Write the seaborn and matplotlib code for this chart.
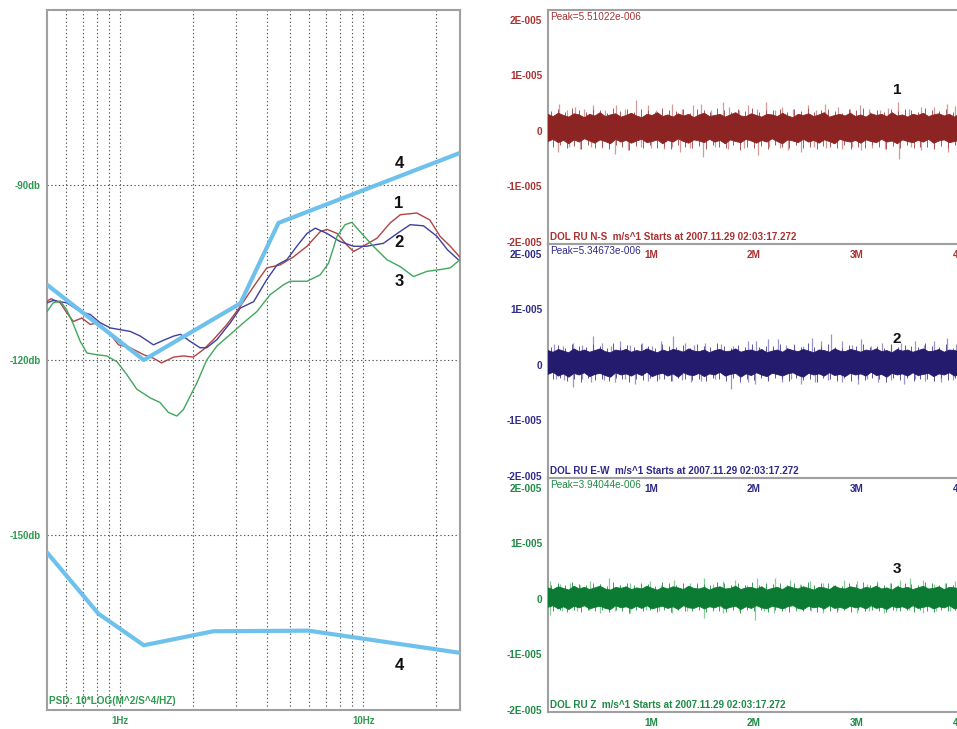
import numpy as np
import pandas as pd
import matplotlib
matplotlib.use("Agg")
import matplotlib.pyplot as plt
from matplotlib.ticker import NullLocator
import seaborn as sns

sns.set_style("white")
plt.rcParams['font.family'] = ['Liberation Sans', 'DejaVu Sans']

# ---------------- PSD data (frequency Hz, dB) ----------------
f_red = [0.5, 0.52, 0.567, 0.603, 0.642, 0.695, 0.753, 0.814, 0.91, 0.985, 1.1, 1.25, 1.37, 1.48, 1.66,
         1.82, 2.0, 2.2, 2.42, 2.75, 3.12, 3.54, 4.01, 4.55, 5.17, 5.87, 6.65, 7.09, 7.8, 8.57,
         9.12, 10.0, 11.4, 12.9, 14.2, 16.6, 18.8, 20.7, 22.8, 25.0]
db_red = [-109.9, -109.5, -110.2, -111.9, -113.4, -112.8, -113.9, -113.6, -115.6, -117.4, -117.9, -119.1,
          -119.7, -120.5, -119.5, -119.3, -119.5, -118.2, -116.5, -113.9, -110.8, -107.4, -104.2, -103.7,
          -102.3, -100.5, -98.0, -97.6, -98.3, -100.3, -101.4, -100.5, -99.1, -96.5, -95.1, -94.8, -96.0,
          -98.8, -100.5, -102.4]

f_nv = [0.5, 0.53, 0.603, 0.685, 0.753, 0.827, 0.91, 1.0, 1.1, 1.21, 1.37, 1.51, 1.66, 1.77, 1.94,
        2.13, 2.27, 2.5, 2.84, 3.12, 3.54, 4.01, 4.42, 4.85, 5.33, 5.87, 6.35, 7.09, 8.03, 9.12,
        10.3, 12.1, 13.8, 15.6, 17.7, 20.1, 22.2, 24.6]
db_nv = [-110.2, -109.8, -110.2, -111.7, -112.2, -113.6, -114.5, -114.8, -115.1, -115.9, -117.4, -116.6,
         -115.9, -115.6, -116.8, -117.9, -117.9, -116.5, -113.6, -111.1, -110.0, -106.2, -103.7, -102.8,
         -100.5, -98.3, -97.4, -98.3, -99.7, -100.5, -100.5, -100.0, -98.3, -96.8, -97.0, -98.8,
         -101.1, -102.8]

f_gr = [0.5, 0.53, 0.567, 0.603, 0.642, 0.685, 0.73, 0.8, 0.88, 0.97, 1.065, 1.17, 1.33, 1.46, 1.58,
        1.71, 1.82, 1.94, 2.07, 2.27, 2.5, 2.84, 3.22, 3.65, 4.14, 4.7, 5.0, 5.87, 6.65, 7.2,
        7.8, 8.42, 8.98, 9.7, 11.0, 12.5, 14.2, 16.1, 18.3, 20.7, 22.8, 25.0]
db_gr = [-111.7, -110.2, -109.9, -111.4, -113.9, -116.8, -118.8, -119.1, -119.3, -120.3, -122.5, -125.0,
         -126.5, -127.3, -129.0, -129.6, -128.5, -126.2, -123.9, -120.0, -117.6, -115.6, -113.6, -111.7,
         -108.8, -107.1, -106.5, -106.5, -105.4, -103.4, -98.8, -96.8, -96.4, -98.0, -100.5, -102.8,
         -104.0, -105.7, -104.8, -104.5, -104.2, -102.8]

nhnm_f = [0.5, 1.25, 3.12, 4.48, 25.0]
nhnm_db = [-107.1, -120.0, -110.3, -96.5, -84.5]
nlnm_f = [0.5, 0.814, 1.25, 2.42, 5.95, 25.0]
nlnm_db = [-153.0, -163.5, -168.9, -166.5, -166.4, -170.2]

grid_freqs = [0.6, 0.7, 0.8, 0.9, 1, 2, 3, 4, 5, 6, 7, 8, 9, 10, 20]
grid_db = [-90, -120, -150]
ytick_db = [-90, -120, -150]
ytick_db_lab = ["-90db", "-120db", "-150db"]
xtick_hz = [1, 10]
xtick_hz_lab = ["1Hz", "10Hz"]

# ---------------- Seismogram data (minutes, units of 1e-6 m/s) ----------------
ns_top = [3.0, 2.6, 3.2, 2.8, 2.5, 3.1, 2.9, 2.4, 3.0, 2.7, 3.3, 2.6, 2.9, 3.1, 2.5, 2.8, 3.2, 2.7, 2.4, 3.0,
          2.8, 3.3, 2.6, 2.9, 2.5, 3.1, 2.7, 3.0, 2.4, 2.9, 3.2, 2.6, 2.8, 3.0, 2.5, 2.9, 3.3, 2.7, 2.6, 3.1,
          2.8, 2.5, 3.0, 2.9, 2.6, 3.2, 2.7, 2.4, 3.0, 2.8, 3.1, 2.6, 2.9, 3.3, 2.5, 2.8, 3.0, 2.7, 3.2, 2.6,
          2.9, 2.5, 3.1, 2.8, 3.0, 2.6, 3.3, 2.7, 2.9, 2.5, 3.0, 2.8, 3.2, 2.6, 2.9, 3.1, 2.7, 3.0, 2.5, 3.2, 2.9]
ns_bot = [-1.9, -1.5, -2.1, -1.7, -2.3, -1.6, -2.0, -1.4, -1.8, -2.2, -1.6, -1.9, -2.3, -1.5, -2.0, -1.7, -2.2,
          -1.8, -1.5, -2.1, -1.9, -1.6, -2.3, -1.7, -2.0, -1.4, -1.9, -2.2, -1.6, -1.8, -2.1, -1.5, -2.0, -1.7,
          -2.3, -1.6, -1.9, -2.1, -1.5, -1.8, -2.2, -1.7, -2.0, -1.4, -1.9, -2.3, -1.6, -1.8, -2.1, -1.5, -2.0,
          -1.7, -2.2, -1.6, -1.9, -2.3, -1.5, -1.8, -2.0, -1.7, -2.2, -1.6, -1.9, -2.1, -1.5, -2.0, -1.8, -2.3,
          -1.6, -1.9, -2.1, -1.7, -2.0, -1.5, -2.2, -1.8, -1.6, -2.1, -1.9, -1.7, -2.0]
ns_fr_up = [3.6, 3.9, 3.4, 4.1, 3.7, 3.5, 4.0, 3.8, 3.3, 4.2, 3.6, 3.9, 3.5, 4.0, 3.7, 3.4, 4.1, 3.8, 3.6, 3.9,
            3.3, 4.0, 3.7, 3.5, 4.2, 3.8, 3.4, 3.9, 3.6, 4.1, 3.5, 3.8, 3.7, 4.0, 3.4, 3.9, 3.6, 4.2, 3.5, 3.8,
            4.0, 3.6, 3.3, 3.9, 3.7, 4.1, 3.5, 3.8, 3.4, 4.0, 3.6, 3.9, 3.7, 3.5, 4.2, 3.8, 3.6, 4.0, 3.4, 3.9]
ns_fr_dn = [-2.9, -2.6, -3.1, -2.7, -3.3, -2.5, -3.0, -2.8, -3.2, -2.6, -2.9, -3.4, -2.7, -3.0, -2.5, -3.1,
            -2.8, -3.3, -2.6, -2.9, -3.0, -2.7, -3.2, -2.5, -2.9, -3.1, -2.6, -3.4, -2.8, -3.0, -2.7, -3.2,
            -2.6, -2.9, -3.1, -2.5, -3.0, -2.8, -3.3, -2.7, -2.9, -3.1, -2.6, -3.2, -2.8, -3.0, -2.5, -2.9,
            -3.3, -2.7, -3.0, -2.6, -3.1, -2.8, -2.9, -3.2, -2.7, -3.0, -2.6, -3.1]
ns_up_t = [0.11, 0.18, 0.26, 0.35, 0.44, 0.55, 0.66, 0.75, 0.85, 0.97, 1.05, 1.2, 1.3, 1.41, 1.49, 1.58, 1.70,
           1.76, 1.85, 1.94, 2.03, 2.12, 2.2, 2.27, 2.38, 2.52, 2.6, 2.69, 2.82, 2.93, 3.03, 3.12, 3.22, 3.3,
           3.40, 3.5, 3.62, 3.75, 3.87, 3.95]
ns_up_a = [4.9, 3.8, 4.3, 3.9, 4.6, 3.7, 4.6, 3.9, 5.6, 4.6, 3.8, 4.9, 3.9, 4.6, 4.9, 3.8, 5.2, 4.3, 3.7, 4.6,
           3.9, 5.3, 3.8, 4.3, 3.9, 4.6, 3.8, 4.9, 4.3, 3.9, 4.6, 4.0, 3.8, 4.1, 5.2, 3.9, 4.3, 4.3, 4.9, 4.5]
ns_dn_t = [0.10, 0.2, 0.31, 0.42, 0.52, 0.65, 0.78, 0.9, 1.0, 1.13, 1.2, 1.28, 1.38, 1.50, 1.62, 1.75, 1.9,
           2.04, 2.15, 2.25, 2.33, 2.46, 2.58, 2.7, 2.85, 2.95, 3.04, 3.15, 3.27, 3.41, 3.52, 3.62, 3.75, 3.88, 3.97]
ns_dn_a = [-3.8, -2.9, -3.2, -2.8, -3.0, -4.1, -3.5, -2.9, -3.1, -3.2, -2.8, -3.8, -3.0, -4.7, -2.9, -3.2, -3.0,
           -4.4, -2.8, -3.1, -3.5, -3.8, -2.9, -3.1, -3.2, -2.9, -3.5, -3.0, -3.2, -5.0, -2.9, -3.5, -3.0, -3.8, -3.3]

ew_top = [2.6, 2.3, 2.8, 2.5, 2.2, 2.9, 2.4, 2.7, 2.3, 2.6, 2.9, 2.4, 2.2, 2.7, 2.5, 2.8, 2.3, 2.6, 2.4, 2.9,
          2.5, 2.2, 2.7, 2.4, 2.8, 2.6, 2.3, 2.9, 2.5, 2.4, 2.7, 2.2, 2.6, 2.8, 2.4, 2.5, 2.9, 2.3, 2.6, 2.7,
          2.4, 2.8, 2.2, 2.5, 2.7, 2.3, 2.9, 2.6, 2.4, 2.8, 2.5, 2.2, 2.7, 2.6, 2.3, 2.9, 2.5, 2.4, 2.8, 2.6,
          2.3, 2.7, 2.5, 2.9, 2.4, 2.6, 2.2, 2.8, 2.5, 2.7, 2.3, 2.6, 2.9, 2.4, 2.5, 2.8, 2.3, 2.7, 2.6, 2.4, 2.8]
ew_bot = [-1.7, -1.3, -2.0, -1.6, -2.2, -1.5, -1.8, -1.4, -2.1, -1.7, -1.5, -1.9, -2.2, -1.4, -1.8, -1.6, -2.0,
          -1.5, -1.9, -1.3, -2.1, -1.7, -1.5, -2.0, -1.6, -2.2, -1.4, -1.8, -1.9, -1.5, -2.1, -1.6, -1.8, -1.3,
          -2.0, -1.7, -1.5, -2.2, -1.6, -1.9, -1.4, -1.8, -2.1, -1.5, -1.7, -2.0, -1.6, -1.4, -1.9, -2.2, -1.5,
          -1.8, -1.6, -2.0, -1.4, -1.9, -1.7, -2.1, -1.5, -1.8, -1.6, -2.0, -1.3, -1.9, -1.7, -2.2, -1.5, -1.8,
          -1.6, -2.0, -1.4, -1.9, -1.7, -1.5, -2.1, -1.6, -1.8, -1.4, -2.0, -1.7, -1.5]
ew_fr_up = [3.3, 3.6, 3.1, 3.8, 3.4, 3.2, 3.7, 3.5, 3.0, 3.9, 3.3, 3.6, 3.2, 3.7, 3.4, 3.1, 3.8, 3.5, 3.3, 3.6,
            3.0, 3.7, 3.4, 3.2, 3.9, 3.5, 3.1, 3.6, 3.3, 3.8, 3.2, 3.5, 3.4, 3.7, 3.1, 3.6, 3.3, 3.9, 3.2, 3.5,
            3.7, 3.3, 3.0, 3.6, 3.4, 3.8, 3.2, 3.5, 3.1, 3.7, 3.3, 3.6, 3.4, 3.2, 3.9, 3.5, 3.3, 3.7, 3.1, 3.6]
ew_fr_dn = [-2.6, -2.4, -2.8, -2.5, -3.0, -2.3, -2.7, -2.5, -2.9, -2.4, -2.6, -3.0, -2.5, -2.7, -2.3, -2.8,
            -2.5, -2.9, -2.4, -2.6, -2.7, -2.5, -2.9, -2.3, -2.6, -2.8, -2.4, -3.0, -2.5, -2.7, -2.4, -2.9,
            -2.4, -2.6, -2.8, -2.3, -2.7, -2.5, -3.0, -2.4, -2.6, -2.8, -2.4, -2.9, -2.5, -2.7, -2.3, -2.6,
            -3.0, -2.4, -2.7, -2.4, -2.8, -2.5, -2.6, -2.9, -2.4, -2.7, -2.4, -2.8]
ew_up_t = [0.06, 0.15, 0.24, 0.33, 0.44, 0.52, 0.61, 0.70, 0.80, 0.91, 1.01, 1.10, 1.21, 1.33, 1.42, 1.52,
           1.68, 1.80, 1.94, 2.02, 2.14, 2.23, 2.31, 2.39, 2.48, 2.56, 2.65, 2.75, 2.85, 2.95, 3.04, 3.14,
           3.24, 3.33, 3.43, 3.56, 3.65, 3.75, 3.87, 3.96]
ew_up_a = [3.8, 3.5, 4.0, 3.6, 5.2, 4.0, 3.5, 4.3, 3.6, 4.0, 3.5, 4.3, 5.2, 4.0, 3.6, 4.0, 3.8, 3.5, 4.3, 4.3,
           4.6, 4.6, 3.6, 3.8, 3.5, 4.9, 4.3, 5.5, 4.3, 3.6, 4.6, 3.5, 4.0, 3.6, 4.0, 4.3, 3.6, 4.3, 4.9, 3.8]
ew_dn_t = [0.08, 0.16, 0.24, 0.33, 0.42, 0.54, 0.65, 0.75, 0.84, 0.97, 1.08, 1.20, 1.30, 1.39, 1.49, 1.62,
           1.78, 1.94, 2.01, 2.14, 2.27, 2.36, 2.46, 2.59, 2.72, 2.85, 3.01, 3.10, 3.20, 3.33, 3.46, 3.56,
           3.66, 3.82, 3.93]
ew_dn_a = [-2.5, -2.7, -4.0, -2.6, -3.1, -2.7, -3.1, -2.6, -3.4, -2.8, -2.6, -2.8, -2.7, -3.1, -2.8, -2.6,
           -4.3, -3.1, -3.4, -2.7, -3.1, -2.6, -3.4, -3.1, -2.7, -3.1, -3.4, -2.6, -3.1, -2.7, -3.4, -2.6,
           -2.8, -3.1, -2.7]

z_top = [2.0, 1.7, 2.2, 1.9, 1.6, 2.3, 1.8, 2.1, 1.7, 2.0, 2.3, 1.8, 1.6, 2.1, 1.9, 2.2, 1.7, 2.0, 1.8, 2.3,
         1.9, 1.6, 2.1, 1.8, 2.2, 2.0, 1.7, 2.3, 1.9, 1.8, 2.1, 1.6, 2.0, 2.2, 1.8, 1.9, 2.3, 1.7, 2.0, 2.1,
         1.8, 2.2, 1.6, 1.9, 2.1, 1.7, 2.3, 2.0, 1.8, 2.2, 1.9, 1.6, 2.1, 2.0, 1.7, 2.3, 1.9, 1.8, 2.2, 2.0,
         1.7, 2.1, 1.9, 2.3, 1.8, 2.0, 1.6, 2.2, 1.9, 2.1, 1.7, 2.0, 2.3, 1.8, 1.9, 2.2, 1.7, 2.1, 2.0, 1.8, 2.2]
z_bot = [-1.5, -1.2, -1.8, -1.4, -1.9, -1.3, -1.6, -1.2, -1.8, -1.5, -1.3, -1.7, -1.9, -1.2, -1.6, -1.4, -1.8,
         -1.3, -1.7, -1.2, -1.8, -1.5, -1.3, -1.7, -1.4, -1.9, -1.2, -1.6, -1.7, -1.3, -1.8, -1.4, -1.6, -1.2,
         -1.8, -1.5, -1.3, -1.9, -1.4, -1.7, -1.2, -1.6, -1.8, -1.3, -1.5, -1.8, -1.4, -1.2, -1.7, -1.9, -1.3,
         -1.6, -1.4, -1.8, -1.2, -1.7, -1.5, -1.8, -1.3, -1.6, -1.4, -1.8, -1.2, -1.7, -1.5, -1.9, -1.3, -1.6,
         -1.4, -1.8, -1.2, -1.7, -1.5, -1.3, -1.8, -1.4, -1.6, -1.2, -1.8, -1.5, -1.3]
z_fr_up = [2.6, 2.8, 2.5, 3.0, 2.7, 2.5, 2.9, 2.7, 2.4, 3.1, 2.6, 2.8, 2.5, 2.9, 2.7, 2.4, 3.0, 2.8, 2.6, 2.8,
           2.4, 2.9, 2.7, 2.5, 3.1, 2.8, 2.5, 2.8, 2.6, 3.0, 2.5, 2.8, 2.7, 2.9, 2.5, 2.8, 2.6, 3.1, 2.5, 2.8,
           2.9, 2.6, 2.4, 2.8, 2.7, 3.0, 2.5, 2.8, 2.5, 2.9, 2.6, 2.8, 2.7, 2.5, 3.1, 2.8, 2.6, 2.9, 2.5, 2.8]
z_fr_dn = [-2.1, -1.9, -2.3, -2.0, -2.4, -1.9, -2.2, -2.0, -2.3, -1.9, -2.1, -2.5, -2.0, -2.2, -1.9, -2.3,
           -2.0, -2.4, -1.9, -2.1, -2.2, -2.0, -2.3, -1.9, -2.1, -2.3, -1.9, -2.5, -2.0, -2.2, -2.0, -2.3,
           -1.9, -2.1, -2.3, -1.9, -2.2, -2.0, -2.4, -2.0, -2.1, -2.3, -1.9, -2.3, -2.0, -2.2, -1.9, -2.1,
           -2.4, -2.0, -2.2, -1.9, -2.3, -2.0, -2.1, -2.3, -2.0, -2.2, -1.9, -2.3]
z_up_t = [0.02, 0.12, 0.21, 0.31, 0.41, 0.50, 0.59, 0.70, 0.80, 0.90, 0.99, 1.10, 1.22, 1.38, 1.51, 1.60,
          1.70, 1.82, 1.93, 2.03, 2.12, 2.20, 2.35, 2.45, 2.54, 2.67, 2.77, 2.87, 3.00, 3.10, 3.19, 3.32,
          3.42, 3.51, 3.64, 3.75, 3.85, 3.95]
z_up_a = [3.2, 2.7, 2.9, 2.6, 3.2, 2.7, 3.8, 2.6, 2.9, 2.7, 3.2, 2.6, 3.5, 2.9, 3.8, 2.7, 3.2, 3.5, 2.6, 3.8,
          2.7, 3.8, 3.5, 2.7, 3.2, 2.9, 2.6, 3.5, 3.2, 2.7, 3.2, 2.9, 3.5, 3.8, 3.5, 2.7, 2.8, 3.2]
z_dn_t = [0.02, 0.14, 0.28, 0.40, 0.50, 0.65, 0.80, 0.95, 1.08, 1.20, 1.35, 1.51, 1.60, 1.70, 1.85, 2.01,
          2.10, 2.19, 2.30, 2.41, 2.55, 2.67, 2.82, 3.00, 3.12, 3.26, 3.38, 3.50, 3.64, 3.77, 3.90]
z_dn_a = [-2.8, -2.1, -2.2, -2.0, -2.5, -2.1, -2.5, -2.0, -2.2, -2.5, -2.1, -3.4, -2.2, -2.5, -2.1, -3.7,
          -2.2, -2.5, -2.0, -2.2, -2.1, -2.5, -2.0, -2.5, -2.1, -2.5, -2.2, -2.0, -2.5, -2.1, -2.2]

seis_yticks = [2e-5, 1e-5, 0, -1e-5, -2e-5]
seis_ylabels = ["2E-005", "1E-005", "0", "-1E-005", "-2E-005"]
seis_xticks = [1, 2, 3, 4]
seis_xlabels = ["1M", "2M", "3M", "4M"]

peaks = ["Peak=5.51022e-006", "Peak=5.34673e-006", "Peak=3.94044e-006"]
chan_titles = ["DOL RU N-S  m/s^1 Starts at 2007.11.29 02:03:17.272",
               "DOL RU E-W  m/s^1 Starts at 2007.11.29 02:03:17.272",
               "DOL RU Z  m/s^1 Starts at 2007.11.29 02:03:17.272"]

# ---------------- figure ----------------
W, H = 957, 729
fig = plt.figure(figsize=(W / 100, H / 100), dpi=100)
fig.patch.set_facecolor("white")


def box(x0, y0, x1, y1):
    return [x0 / W, 1 - y1 / H, (x1 - x0) / W, (y1 - y0) / H]


def ftext(x, y, s, **kw):
    fig.text(x / W, 1 - y / H, s, **kw)


SPINE = "#a0a0a0"
GREEN_T = "#2e9a50"

# ---- PSD panel ----
ax = fig.add_axes(box(47, 10, 460, 710))
ax.set_xscale("log")
ax.set_xlim(0.5, 25)
ax.set_ylim(-180, -60)
for g in grid_freqs:
    ax.axvline(g, color="#555555", lw=0.8, ls=(0, (1.2, 2.2)), zorder=1)
for g in grid_db:
    ax.axhline(g, color="#555555", lw=0.8, ls=(0, (1.2, 2.2)), zorder=1)

psd = pd.concat([
    pd.DataFrame({"f": f_red, "db": db_red, "ch": "1"}),
    pd.DataFrame({"f": f_nv, "db": db_nv, "ch": "2"}),
    pd.DataFrame({"f": f_gr, "db": db_gr, "ch": "3"}),
])
sns.lineplot(data=psd, x="f", y="db", hue="ch", palette={"1": "#b04444", "2": "#3f3f9f", "3": "#3ea85c"},
             lw=1.0, sort=False, estimator=None, legend=False, ax=ax, zorder=3)
sns.lineplot(x=nhnm_f, y=nhnm_db, color="#6ec1ec", lw=3.0, sort=False, estimator=None, ax=ax, zorder=4)
sns.lineplot(x=nlnm_f, y=nlnm_db, color="#6ec1ec", lw=3.0, sort=False, estimator=None, ax=ax, zorder=4)

ax.set_xticks(xtick_hz)
ax.set_xticklabels(xtick_hz_lab)
ax.xaxis.set_minor_locator(NullLocator())
ax.set_yticks(ytick_db)
ax.set_yticklabels(ytick_db_lab)
ax.tick_params(axis="both", which="both", direction="out", length=3, width=0.8, color=SPINE,
               labelsize=7.0, labelcolor=GREEN_T, pad=1.5)
for lab in ax.get_xticklabels() + ax.get_yticklabels():
    lab.set_fontweight("bold")
ax.set_xlabel("")
ax.set_ylabel("")
for sp in ax.spines.values():
    sp.set_color(SPINE)
    sp.set_linewidth(1.5)
ax.text(0.005, 0.006, "PSD: 10*LOG(M^2/S^4/HZ)", transform=ax.transAxes, fontsize=7.2,
        fontweight="bold", color=GREEN_T, ha="left", va="bottom")

for (x, y, s) in [(399, 164, "4"), (399, 203, "1"), (399, 243, "2"), (399, 281, "3"), (399, 665, "4")]:
    ftext(x, y, s, fontsize=12, fontweight="bold", color="#111111", ha="center", va="center")

# ---- seismogram panels ----
panels = [
    (10, 244, ns_top, ns_bot, ns_fr_up, ns_fr_dn, ns_up_t, ns_up_a, ns_dn_t, ns_dn_a,
     "#8c2424", "#d49a9a", "#b05454", "#a83232"),
    (244, 478, ew_top, ew_bot, ew_fr_up, ew_fr_dn, ew_up_t, ew_up_a, ew_dn_t, ew_dn_a,
     "#241a6e", "#9c95cc", "#5a53a0", "#2e2a8a"),
    (478, 712, z_top, z_bot, z_fr_up, z_fr_dn, z_up_t, z_up_a, z_dn_t, z_dn_a,
     "#0b7a32", "#8acb9c", "#3f9a5e", "#1f8a45"),
]
for i, (y0, y1, top, bot, fru, frd, ut, ua, dt, da, dark, light, mid, tcol) in enumerate(panels):
    a = fig.add_axes(box(548, y0, 1011, y1))
    a.patch.set_visible(False)
    a.set_xlim(0, (1011 - 548) / 103.0)
    a.set_ylim(-2.036e-5, 2.18e-5)
    a.vlines(ut, 0, np.array(ua) * 1e-6, color=light, lw=0.9, zorder=2)
    a.vlines(dt, 0, np.array(da) * 1e-6, color=light, lw=0.9, zorder=2)
    tfu = np.linspace(0.03, 4.0, len(fru))
    tfd = np.linspace(0.05, 4.02, len(frd))
    a.vlines(tfu, 0, np.array(fru) * 1e-6, color=mid, lw=0.7, zorder=2)
    a.vlines(tfd, 0, np.array(frd) * 1e-6, color=mid, lw=0.7, zorder=2)
    tt = np.linspace(0, 4.05, len(top))
    tb = np.linspace(0, 4.05, len(bot))
    a.fill(np.r_[tt, tb[::-1]], np.r_[np.array(top), np.array(bot)[::-1]] * 1e-6,
           color=dark, lw=0.6, ec=dark, zorder=3)
    a.set_yticks(seis_yticks)
    a.set_yticklabels(seis_ylabels)
    a.set_xticks(seis_xticks)
    a.set_xticklabels(seis_xlabels)
    a.tick_params(axis="both", direction="out", length=3, width=0.8, color=SPINE,
                  labelsize=7.2, labelcolor=tcol, pad=1.2)
    for lab in a.get_xticklabels() + a.get_yticklabels():
        lab.set_fontweight("bold")
    for sp in a.spines.values():
        sp.set_color(SPINE)
        sp.set_linewidth(1.5)
    ftext(550, y0 + 2, peaks[i], fontsize=7.2, color=tcol, ha="left", va="top")
    ftext(550, y1 - 2, chan_titles[i], fontsize=7.1, fontweight="bold", color=tcol, ha="left", va="bottom")

for (x, y, s) in [(897, 90, "1"), (897, 339, "2"), (897, 569, "3")]:
    ftext(x, y, s, fontsize=11, fontweight="bold", color="#111111", ha="center", va="center")

fig.savefig("out.png", dpi=100)
